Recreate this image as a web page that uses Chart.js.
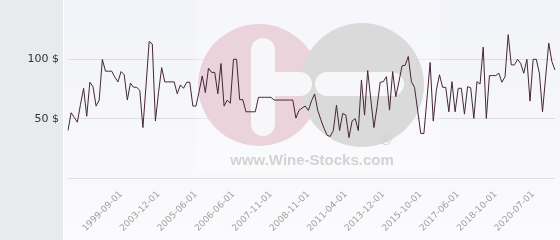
<!DOCTYPE html>
<html>
<head>
<meta charset="utf-8">
<script src="https://cdn.jsdelivr.net/npm/chart.js@4.4.1/dist/chart.umd.min.js"></script>
<style>
  body { margin: 0; background: #ffffff; }
  #chart { display: block; }
</style>
</head>
<body>
<canvas id="chart" width="560" height="240"></canvas>
<script>

// price per bottle, one value per auction date
const prices = [
    40, 55, 51, 47, 62, 75.6, 52, 80.7, 77, 60.6,
    65.7, 100, 90, 90, 90, 85, 81, 89.7, 87, 65.7,
    80, 76.5, 76.5, 73.6, 42.5, 78, 115, 113, 48, 72,
    93, 81, 81, 81, 81, 71, 78.4, 75.6, 80.7, 80.7,
    60.6, 60.6, 73, 86, 72, 92.5, 89, 89, 71, 96.5,
    60.6, 65.7, 63, 100, 100, 66, 66, 55.8, 55.8, 55.8,
    55.8, 68, 68, 68, 68, 68, 65.7, 65.7, 65.7, 65.7,
    65.7, 65.7, 65.7, 50.5, 57, 59, 60.6, 57, 65, 70.8,
    57, 49, 42, 36, 35, 40, 61.4, 40, 54.4, 53,
    34, 48, 50, 40, 82.6, 53, 90.5, 66, 42.5, 60,
    80.7, 81.2, 85.4, 57.2, 89.7, 68.5, 81, 94.5, 95, 102.4,
    81.2, 76.4, 57, 37.5, 37.5, 67, 97.3, 48, 74, 87,
    76.4, 76.4, 55.8, 81.2, 55.8, 75.6, 75.6, 53.8, 77, 76,
    50.2, 81.2, 79.2, 110.3, 50.2, 86.3, 86.3, 86.3, 88.3, 80.7,
    85.4, 120.8, 95.3, 95.3, 100, 96.6, 88.3, 100, 64.8, 100,
    100, 88.3, 55.8, 85, 113.7, 98.1, 91
];

// dates shown under the axis and the point they belong to
const tickDates = ['1999-09-01', '2003-12-01', '2005-06-01', '2006-06-01', '2007-11-01', '2008-11-01',
                   '2011-04-01', '2013-12-01', '2015-10-01', '2017-06-01', '2018-10-01', '2020-07-01'];
const tickIndex = [17, 29, 41, 53, 65, 77, 89, 101, 113, 125, 137, 149];

const yTicks = [50, 100];

const labels = prices.map(function (p, i) {
    const k = tickIndex.indexOf(i);
    return k >= 0 ? tickDates[k] : '';
});

// page background + the wine-stocks watermark
const backdrop = {
    id: 'backdrop',
    beforeDraw(chart) {
        const ctx = chart.ctx;
        ctx.save();
        ctx.fillStyle = '#e7ebee';
        ctx.fillRect(0, 0, 63, 240);
        const g = ctx.createLinearGradient(0, 0, 0, 240);
        g.addColorStop(0, '#f2f3f8');
        g.addColorStop(1, '#fbfbfd');
        ctx.fillStyle = g;
        ctx.fillRect(64, 0, 496, 240);
        ctx.restore();
    },
    beforeDatasetsDraw(chart) {
        const ctx = chart.ctx;
        ctx.save();
        ctx.fillStyle = 'rgba(255,255,255,0.3)';
        ctx.fillRect(196, 0, 244, 172);

        ctx.fillStyle = '#ead3da';
        ctx.beginPath();
        ctx.arc(259, 85, 61, 0, Math.PI * 2);
        ctx.fill();
        ctx.fillStyle = '#dadadb';
        ctx.beginPath();
        ctx.arc(362, 85, 62, 0, Math.PI * 2);
        ctx.fill();

        ctx.fillStyle = '#f7f7fa';
        ctx.beginPath();
        ctx.roundRect(251, 38, 24, 98, 12);
        ctx.fill();
        ctx.beginPath();
        ctx.roundRect(258, 72, 54, 24, 12);
        ctx.fill();
        ctx.beginPath();
        ctx.roundRect(315, 72, 89, 24, 12);
        ctx.fill();

        ctx.fillStyle = '#d3d3d3';
        ctx.font = 'bold 15px "Liberation Sans", Arial, sans-serif';
        ctx.textAlign = 'center';
        ctx.textBaseline = 'middle';
        ctx.fillText('www.Wine-Stocks.com', 312, 161);
        ctx.font = '15px "DejaVu Sans", sans-serif';
        ctx.fillText('\u00AE', 386, 141);
        ctx.restore();
    }
};

new Chart(document.getElementById('chart'), {
    type: 'line',
    data: {
        labels: labels,
        datasets: [{
            data: prices,
            borderColor: '#452636',
            borderWidth: 1,
            pointRadius: 0,
            tension: 0,
            fill: false
        }]
    },
    options: {
        responsive: false,
        animation: false,
        layout: { padding: { top: 0, right: 5, bottom: 0, left: 0 } },
        plugins: {
            legend: { display: false },
            tooltip: { enabled: false }
        },
        scales: {
            x: {
                grid: { display: false },
                border: { display: false },
                ticks: {
                    autoSkip: false,
                    minRotation: 45,
                    maxRotation: 45,
                    color: '#a0a0a0',
                    font: { family: 'DejaVu Sans', size: 9 },
                    callback: function (v, i) { return labels[i]; }
                },
                afterFit: function (s) {
                    s.height = 62;
                    s.paddingLeft = 0;
                    s.paddingRight = 0;
                }
            },
            y: {
                min: 0,
                max: 150,
                border: { display: false },
                grid: {
                    drawTicks: false,
                    color: function (c) { return c.tick.value === 150 ? 'rgba(0,0,0,0)' : '#dedee2'; }
                },
                ticks: {
                    stepSize: 50,
                    padding: 9,
                    color: '#333333',
                    font: { family: 'DejaVu Sans', size: 11 },
                    callback: function (v) { return yTicks.includes(v) ? v + ' $' : ''; }
                },
                afterFit: function (s) {
                    s.width = 68;
                    s.paddingTop = 0;
                    s.paddingBottom = 0;
                }
            }
        }
    },
    plugins: [backdrop]
});
</script>
</body>
</html>
